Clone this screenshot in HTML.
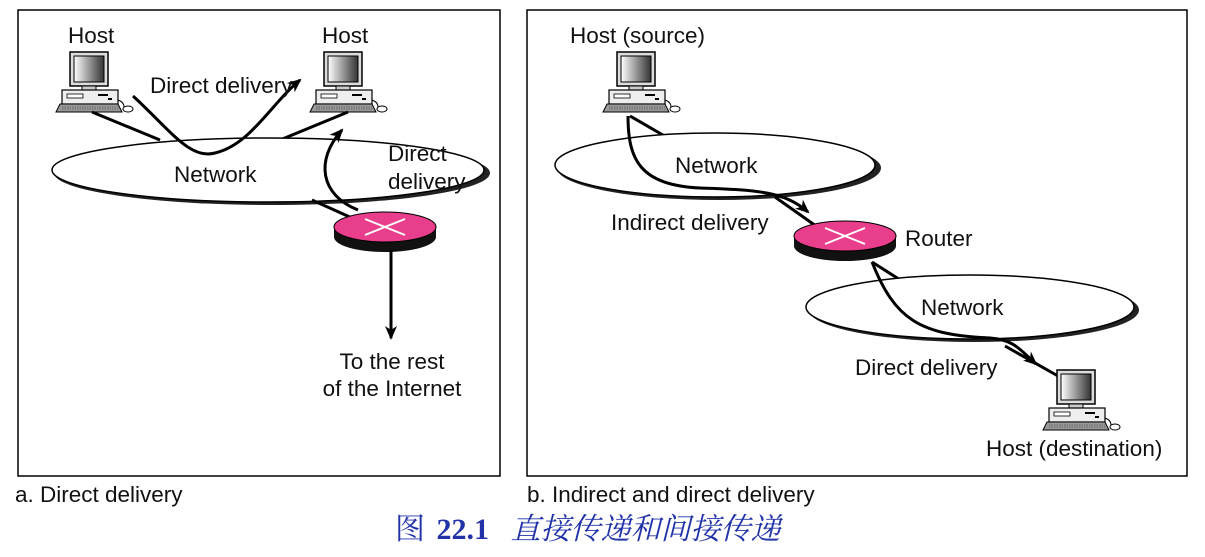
<!DOCTYPE html>
<html><head><meta charset="utf-8"><style>
body{margin:0;background:#fff;}
svg text{font-family:"Liberation Sans","DejaVu Sans",sans-serif;font-size:22.5px;fill:#111;}
</style></head><body>
<svg width="1205" height="552" viewBox="0 0 1205 552" xmlns="http://www.w3.org/2000/svg">
<defs>
<linearGradient id="scr" x1="0" x2="1" y1="0" y2="0"><stop offset="0" stop-color="#fff"/><stop offset="1" stop-color="#333"/></linearGradient>
<marker id="ah" markerWidth="14" markerHeight="12" refX="12" refY="6" orient="auto" markerUnits="userSpaceOnUse"><path d="M0,0 L14,6 L0,12 L4,6 Z" fill="#000"/></marker>
<g id="pc">
 <rect x="12" y="0" width="38" height="34" fill="#ddd" stroke="#000" stroke-width="1.5"/>
 <rect x="16" y="4" width="30" height="26" fill="url(#scr)" stroke="#000"/>
 <rect x="24" y="34" width="14" height="4" fill="#ccc" stroke="#000"/>
 <rect x="4" y="38" width="56" height="14" fill="#eee" stroke="#000" stroke-width="1.2"/>
 <rect x="9" y="42" width="16" height="4" fill="#fff" stroke="#000" stroke-width="0.8"/>
 <rect x="40" y="42" width="10" height="2" fill="#000"/><rect x="50" y="46" width="4" height="2" fill="#000"/>
 <path d="M2,52 L60,52 L64,60 L-2,60 Z" fill="#999" stroke="#000" stroke-width="1"/>
 <path d="M4,55 H60 M4,57 H61" stroke="#333" stroke-width="0.6" stroke-dasharray="1.5 1"/>
 <ellipse cx="70" cy="57" rx="5" ry="3" fill="#fff" stroke="#000"/>
 <path d="M60,48 Q66,50 66,55" fill="none" stroke="#000"/>
</g>
<g id="rt">
 <ellipse cx="0" cy="10" rx="51" ry="15" fill="#111"/>
 <rect x="-51" y="0" width="102" height="10" fill="#111"/>
 <ellipse cx="0" cy="0" rx="51" ry="15" fill="#e83e8c" stroke="#000"/>
 <path d="M-20,-8 L20,8 M-20,8 L20,-8" stroke="#fff" stroke-width="2"/>
</g>
</defs>
<rect x="18" y="10" width="482" height="466" fill="none" stroke="#000" stroke-width="1.5"/>
<rect x="527" y="10" width="660" height="466" fill="none" stroke="#000" stroke-width="1.5"/>

<!-- Panel a -->
<text x="68" y="43">Host</text><text x="322" y="43">Host</text>
<use href="#pc" x="58" y="52"/><use href="#pc" x="312" y="52"/>
<path d="M92,112 L160,140 M348,112 L280,140" stroke="#000" stroke-width="3"/>
<ellipse cx="272" cy="173" rx="218" ry="32" fill="#222"/>
<ellipse cx="268" cy="170" rx="216" ry="32" fill="#fff" stroke="#000" stroke-width="1.5"/>
<text x="174" y="182">Network</text>
<path d="M133,96 C170,130 190,160 215,153 C250,145 270,105 300,80" fill="none" stroke="#000" stroke-width="3" marker-end="url(#ah)"/>
<text x="150" y="93">Direct delivery</text>
<path d="M312,200 L352,218" stroke="#000" stroke-width="3"/>
<path d="M358,210 C320,195 315,160 342,130" fill="none" stroke="#000" stroke-width="3" marker-end="url(#ah)"/>
<text x="388" y="161">Direct</text><text x="388" y="189">delivery</text>
<use href="#rt" x="385" y="227"/>
<path d="M391,250 L391,338" stroke="#000" stroke-width="3" marker-end="url(#ah)"/>
<text x="392" y="369" text-anchor="middle">To the rest</text>
<text x="392" y="396" text-anchor="middle">of the Internet</text>

<!-- Panel b -->
<text x="570" y="43">Host (source)</text>
<use href="#pc" x="605" y="52"/>
<path d="M630,116 L668,138" stroke="#000" stroke-width="3"/>
<ellipse cx="719" cy="168" rx="162" ry="32" fill="#222"/>
<ellipse cx="715" cy="165" rx="160" ry="32" fill="#fff" stroke="#000" stroke-width="1.5"/>
<text x="675" y="173">Network</text>
<path d="M628,116 C628,160 640,185 700,188 C760,190 785,192 808,212" fill="none" stroke="#000" stroke-width="3" marker-end="url(#ah)"/>
<path d="M775,197 L816,226" stroke="#000" stroke-width="3"/>
<text x="611" y="230">Indirect delivery</text>
<use href="#rt" x="845" y="236"/>
<text x="905" y="246">Router</text>
<path d="M872,262 L905,283" stroke="#000" stroke-width="3"/>
<ellipse cx="974" cy="310" rx="165" ry="32" fill="#222"/>
<ellipse cx="970" cy="307" rx="164" ry="32" fill="#fff" stroke="#000" stroke-width="1.5"/>
<text x="921" y="315">Network</text>
<path d="M872,262 C895,320 920,335 990,338 C1015,340 1020,350 1036,364" fill="none" stroke="#000" stroke-width="3" marker-end="url(#ah)"/>
<path d="M1005,346 L1058,376" stroke="#000" stroke-width="3"/>
<text x="855" y="375">Direct delivery</text>
<use href="#pc" x="1045" y="370"/>
<text x="986" y="456">Host (destination)</text>

<text x="15" y="502">a. Direct delivery</text>
<text x="527" y="502">b. Indirect and direct delivery</text>
<text x="395" y="539" style="font-family:'Liberation Serif','Noto Serif CJK SC',serif;font-size:30px;fill:#2233aa">图 <tspan font-weight="bold" dx="4">22.1</tspan> <tspan font-style="italic" dx="14">直接传递和间接传递</tspan></text>
</svg>
</body></html>
